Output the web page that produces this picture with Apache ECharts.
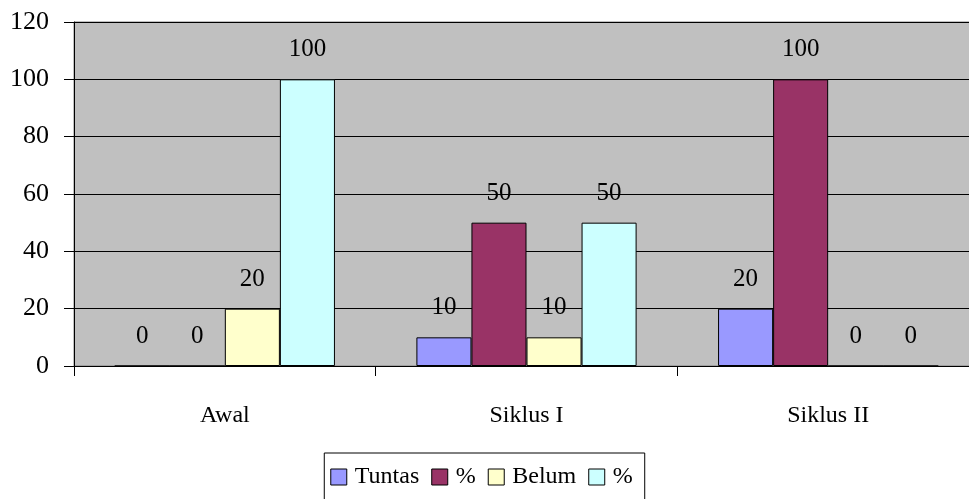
<!DOCTYPE html>
<html>
<head>
<meta charset="utf-8">
<script src="https://cdn.jsdelivr.net/npm/echarts@6/dist/echarts.min.js"></script>
<style>
  html, body { margin: 0; padding: 0; background: #fff; }
  #chart { width: 969px; height: 499px; }
</style>
</head>
<body>
<div id="chart"></div>
<script>
// data
const categories = ['Awal', 'Siklus I', 'Siklus II']
const tuntas = [0, 10, 20]
const tuntasPct = [0, 50, 100]
const belum = [20, 10, 0]
const belumPct = [100, 50, 0]
const seriesNames = ['Tuntas', '%', 'Belum', '% ']
const colors = ['#9999ff', '#993366', '#ffffcc', '#ccffff']

const font = '"Liberation Serif", "Times New Roman", serif'

function makeSeries(name, data, color) {
  return {
    name: name,
    type: 'bar',
    data: data,
    barGap: '0%',
    barCategoryGap: '27%',
    itemStyle: { color: color, borderColor: '#000', borderWidth: 1 },
    label: {
      show: true,
      position: 'top',
      distance: 17,
      color: '#000',
      fontFamily: font,
      fontSize: 25
    }
  }
}

const myChart = echarts.init(document.getElementById('chart'))
const option = {
  animation: false,
  textStyle: { fontFamily: font },
  grid: {
    left: 74,
    top: 22,
    width: 905,
    height: 344,
    outerBoundsMode: 'none',
    show: true,
    backgroundColor: '#c0c0c0',
    borderColor: '#808080',
    borderWidth: 1
  },
  legend: {
    data: seriesNames.map((n, i) => ({ name: n, itemStyle: { color: colors[i], borderColor: '#000', borderWidth: 1 } })),
    top: 453,
    left: 'center',
    itemWidth: 16,
    itemHeight: 16,
    itemGap: 12,
    icon: 'rect',
    borderColor: '#000',
    borderWidth: 1,
    padding: [12, 6, 30, 6],
    textStyle: { fontFamily: font, fontSize: 24, color: '#000', padding: [0, 0, 0, 3] }
  },
  xAxis: {
    type: 'category',
    data: categories,
    axisLine: { lineStyle: { color: '#000', width: 1 } },
    axisTick: { show: true, length: 10, lineStyle: { color: '#000' } },
    axisLabel: { margin: 38, color: '#000', fontFamily: font, fontSize: 24 }
  },
  yAxis: {
    type: 'value',
    min: 0,
    max: 120,
    interval: 20,
    axisLine: { show: true, lineStyle: { color: '#000', width: 1 } },
    axisTick: { show: true, length: 10, lineStyle: { color: '#000' } },
    axisLabel: { margin: 25, color: '#000', fontFamily: font, fontSize: 26 },
    splitLine: { show: true, lineStyle: { color: '#000', width: 1 } }
  },
  series: [
    makeSeries(seriesNames[0], tuntas, colors[0]),
    makeSeries(seriesNames[1], tuntasPct, colors[1]),
    makeSeries(seriesNames[2], belum, colors[2]),
    makeSeries(seriesNames[3], belumPct, colors[3])
  ]
}
myChart.setOption(option)
</script>
</body>
</html>
